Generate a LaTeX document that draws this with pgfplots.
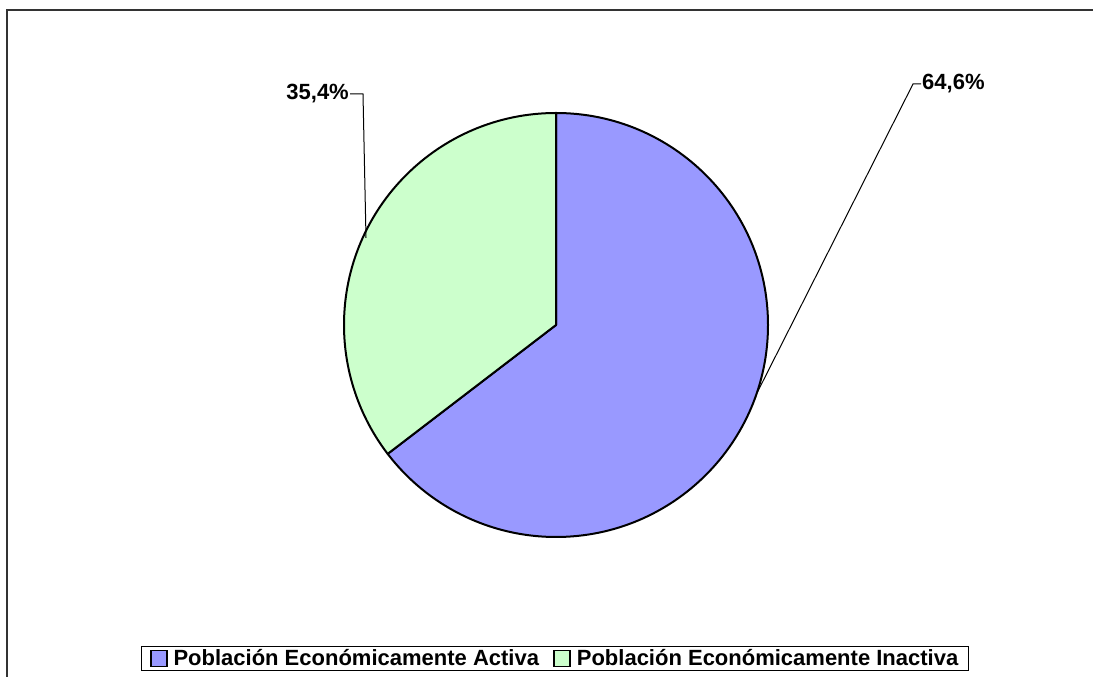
\documentclass[border=0pt]{standalone}
\usepackage{fontspec}
\setmainfont{Liberation Sans}
\usepackage{pgfplots}
\usepackage{pgfplotstable}
\pgfplotsset{compat=1.18}
\definecolor{pieblue}{HTML}{9999FF}
\definecolor{piegreen}{HTML}{CCFFCC}
\pgfplotstableread{
label value
Activa 64.6
Inactiva 35.4
}\piedata
\begin{document}
\begin{tikzpicture}
\pgfplotstablegetelem{0}{value}\of\piedata \let\va\pgfplotsretval
\pgfplotstablegetelem{1}{value}\of\piedata \let\vb\pgfplotsretval
\pgfmathsetmacro\aend{90-3.6*\va}
\pgfmathsetmacro\bend{90+3.6*\vb}
\begin{axis}[
  x=1pt, y=1pt,
  xmin=0, xmax=1093, ymin=0, ymax=677,
  hide axis, clip=false,
  legend columns=2,
  legend style={at={(axis cs:555,18.5)}, anchor=center, draw=black, line width=1.2pt,
    font=\fontsize{22}{26}\selectfont\bfseries, inner xsep=8pt, inner ysep=1.5pt,
    /tikz/every even column/.append style={column sep=12pt},
    /tikz/every odd column/.append style={column sep=4pt},
    nodes={inner xsep=2pt}},
  legend image code/.code={\draw[#1,line width=1.8pt] (0pt,-8pt) rectangle (16pt,8pt);},
]
\addlegendimage{fill=pieblue,draw=black}
\addlegendentry{Población Económicamente Activa}
\addlegendimage{fill=piegreen,draw=black}
\addlegendentry{Población Económicamente Inactiva}
% frame
\draw[line width=2pt, black!80] (axis cs:7,-20) -- (axis cs:7,667) -- (axis cs:1110,667);
% pie
\filldraw[fill=pieblue, draw=black, line width=2pt, line join=round]
  (axis cs:556,352) -- (axis cs:556,564) arc[start angle=90, end angle=\aend, radius=212pt] -- cycle;
\filldraw[fill=piegreen, draw=black, line width=2pt, line join=round]
  (axis cs:556,352) -- (axis cs:556,564) arc[start angle=90, end angle=\bend, radius=212pt] -- cycle;
% leaders
\draw[line width=1pt] (axis cs:757,284) -- (axis cs:913,593) -- (axis cs:921,593);
\node[anchor=west, inner sep=1pt, font=\fontsize{22}{26}\selectfont\bfseries] at (axis cs:921,593) {64,6\%};
\draw[line width=1pt] (axis cs:366,439) -- (axis cs:363,583) -- (axis cs:350,583);
\node[anchor=east, inner sep=1pt, font=\fontsize{22}{26}\selectfont\bfseries] at (axis cs:350,583) {35,4\%};
\end{axis}
\pgfresetboundingbox
\useasboundingbox (current axis.south west) rectangle (current axis.north east);
\end{tikzpicture}
\end{document}
